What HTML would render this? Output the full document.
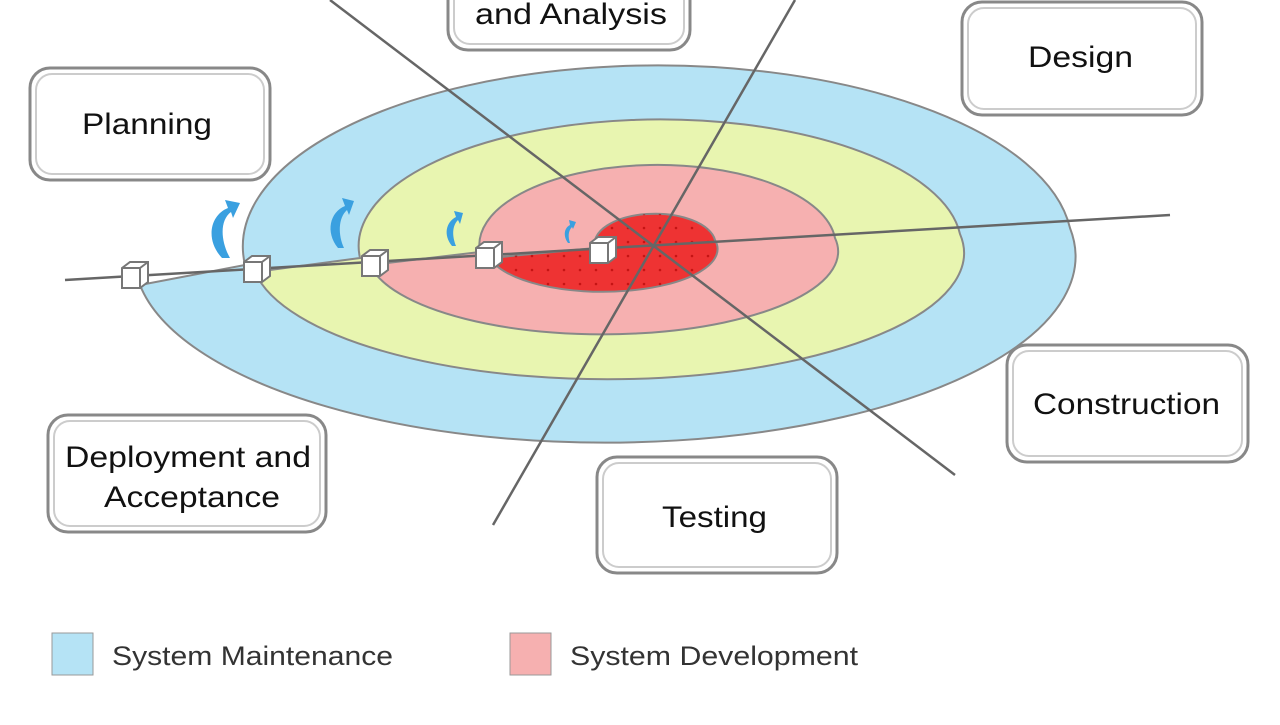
<!DOCTYPE html>
<html><head><style>
body{margin:0;width:1280px;height:720px;background:#fff;overflow:hidden;font-family:"Liberation Sans",sans-serif}
</style></head><body>
<svg width="1280" height="720" viewBox="0 0 1280 720" xmlns="http://www.w3.org/2000/svg" font-family="Liberation Sans, sans-serif">
<defs>
<pattern id="rdots" width="16" height="14" patternUnits="userSpaceOnUse"><circle cx="4" cy="4" r="1.3" fill="#a00"/></pattern>
</defs>
<g stroke="#888" stroke-width="2">
<path d="M245,265 A412,180 0 0 1 1070,228 A465,184 0 0 1 140,285 Z" fill="#b5e3f5"/>
<path d="M360,258 A300,126 0 0 1 960,234 A353,125 0 0 1 255,272 Z" fill="#e8f5b0"/>
<path d="M480,252 A178,80 0 0 1 835,238 A233,82 0 0 1 370,265 Z" fill="#f6b0b0"/>
<path d="M595,248 A60,30 0 0 1 715,240 A113,42 0 0 1 490,258 Z" fill="#ee3333"/>
</g>
<path d="M595,248 A60,30 0 0 1 715,240 A113,42 0 0 1 490,258 Z" fill="url(#rdots)" opacity="0.6"/>
<g stroke="#666" stroke-width="2.5">
<line x1="65" y1="280" x2="1170" y2="215"/>
<line x1="330" y1="0" x2="955" y2="475"/>
<line x1="795" y1="0" x2="493" y2="525"/>
</g>
<g fill="#fff" stroke="#777" stroke-width="2">
<g transform="translate(122,262)"><path d="M0,6 L8,0 L26,0 L26,20 L18,26 L0,26 Z"/><path d="M0,6 L18,6 L26,0 M18,6 L18,26" fill="none"/></g>
<g transform="translate(244,256)"><path d="M0,6 L8,0 L26,0 L26,20 L18,26 L0,26 Z"/><path d="M0,6 L18,6 L26,0 M18,6 L18,26" fill="none"/></g>
<g transform="translate(362,250)"><path d="M0,6 L8,0 L26,0 L26,20 L18,26 L0,26 Z"/><path d="M0,6 L18,6 L26,0 M18,6 L18,26" fill="none"/></g>
<g transform="translate(476,242)"><path d="M0,6 L8,0 L26,0 L26,20 L18,26 L0,26 Z"/><path d="M0,6 L18,6 L26,0 M18,6 L18,26" fill="none"/></g>
<g transform="translate(590,237)"><path d="M0,6 L8,0 L26,0 L26,20 L18,26 L0,26 Z"/><path d="M0,6 L18,6 L26,0 M18,6 L18,26" fill="none"/></g>
</g>
<g fill="#3aa0e0">
<path d="M222,258 C205,240 210,215 228,208 L225,200 L240,203 L233,218 L231,212 C220,220 220,240 230,258 Z"/>
<path d="M338,248 C325,232 330,212 345,206 L342,198 L354,201 L349,215 L347,210 C338,218 338,235 344,248 Z"/>
<path d="M452,246 C443,235 446,222 456,217 L454,211 L463,213 L460,224 L458,220 C452,226 452,236 456,246 Z"/>
<path d="M568,243 C563,236 564,228 570,225 L569,220 L576,222 L573,229 L572,227 C568,231 568,237 570,243 Z"/>
</g>
<g fill="#fff" stroke="#888" stroke-width="3">
<rect x="30" y="68" width="240" height="112" rx="20"/>
<rect x="448" y="-40" width="242" height="90" rx="20"/>
<rect x="962" y="2" width="240" height="113" rx="20"/>
<rect x="1007" y="345" width="241" height="117" rx="20"/>
<rect x="597" y="457" width="240" height="116" rx="20"/>
<rect x="48" y="415" width="278" height="117" rx="20"/>
</g>
<g fill="none" stroke="#ccc" stroke-width="2">
<rect x="36" y="74" width="228" height="100" rx="16"/>
<rect x="454" y="-34" width="230" height="78" rx="16"/>
<rect x="968" y="8" width="228" height="101" rx="16"/>
<rect x="1013" y="351" width="229" height="105" rx="16"/>
<rect x="603" y="463" width="228" height="104" rx="16"/>
<rect x="54" y="421" width="266" height="105" rx="16"/>
</g>
<g font-size="30" fill="#111" lengthAdjust="spacingAndGlyphs">
<text x="82" y="134" textLength="130" lengthAdjust="spacingAndGlyphs">Planning</text>
<text x="475" y="24" textLength="192" lengthAdjust="spacingAndGlyphs">and Analysis</text>
<text x="1028" y="67" textLength="105" lengthAdjust="spacingAndGlyphs">Design</text>
<text x="1033" y="414" textLength="187" lengthAdjust="spacingAndGlyphs">Construction</text>
<text x="662" y="527" textLength="105" lengthAdjust="spacingAndGlyphs">Testing</text>
<text x="65" y="467" textLength="246" lengthAdjust="spacingAndGlyphs">Deployment and</text>
<text x="104" y="507" textLength="176" lengthAdjust="spacingAndGlyphs">Acceptance</text>
</g>
<rect x="52" y="633" width="41" height="42" fill="#b5e3f5" stroke="#999"/>
<rect x="510" y="633" width="41" height="42" fill="#f6b0b0" stroke="#999"/>
<g font-size="27" fill="#333">
<text x="112" y="665" textLength="281" lengthAdjust="spacingAndGlyphs">System Maintenance</text>
<text x="570" y="665" textLength="288" lengthAdjust="spacingAndGlyphs">System Development</text>
</g>
</svg>
</body></html>
